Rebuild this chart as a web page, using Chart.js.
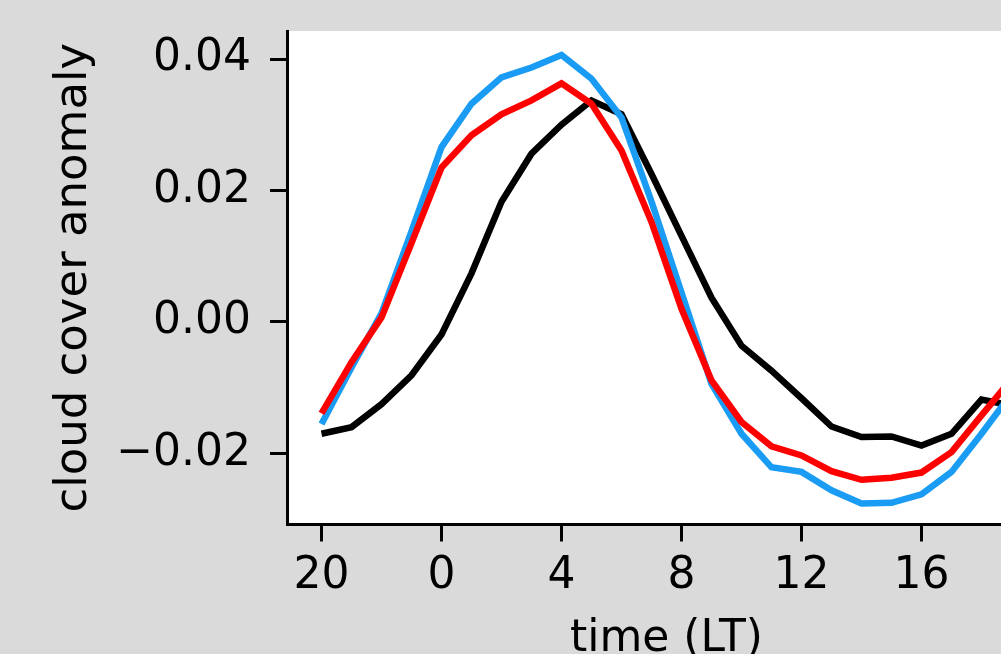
<!DOCTYPE html>
<html>
<head>
<meta charset="utf-8">
<script src="https://cdn.jsdelivr.net/npm/chart.js@4/dist/chart.umd.min.js"></script>
<style>
  html, body { margin: 0; padding: 0; overflow: hidden; background: #dadada; }
  #wrap { position: absolute; left: 0; top: 0; width: 1100px; height: 654px; }
  canvas { background: #dadada; }
</style>
</head>
<body>
<div id="wrap"><canvas id="c" width="1100" height="654"></canvas></div>
<script>
// hours relative to midnight (20 LT = -4 ... 19 LT = 19)
const hours = [-4,-3,-2,-1,0,1,2,3,4,5,6,7,8,9,10,11,12,13,14,15,16,17,18,19];

const seriesRed = [-0.0139,-0.0061,0.0007,0.0120,0.0235,0.0284,0.0316,0.0337,0.0363,0.0332,0.0261,0.0152,
                   0.0020,-0.0089,-0.0152,-0.0189,-0.0203,-0.0227,-0.0240,-0.0237,-0.0229,-0.0198,-0.0142,-0.0087];
const seriesBlue = [-0.0155,-0.0069,0.0013,0.0138,0.0266,0.0332,0.0372,0.0387,0.0406,0.0370,0.0311,0.0183,
                    0.0045,-0.0094,-0.0170,-0.0221,-0.0228,-0.0256,-0.0276,-0.0275,-0.0262,-0.0228,-0.0170,-0.0109];
const seriesBlack = [-0.0170,-0.0160,-0.0125,-0.0081,-0.0019,0.0074,0.0183,0.0256,0.0300,0.0337,0.0316,0.0225,
                     0.0131,0.0037,-0.0036,-0.0074,-0.0116,-0.0159,-0.0175,-0.0174,-0.0188,-0.0170,-0.0118,-0.0127];

const xTickValues = [-4, 0, 4, 8, 12, 16];
const xTickLabels = ['20', '0', '4', '8', '12', '16'];
const yTickValues = [-0.02, 0.00, 0.02, 0.04];
const yTickLabels = ['\u22120.02', '0.00', '0.02', '0.04'];

const FONT = 'DejaVu Sans';

const toPts = arr => arr.map((v, i) => ({x: hours[i], y: v}));

const plotBg = {
  id: 'plotBg',
  beforeDraw(chart) {
    const {ctx, chartArea: a} = chart;
    ctx.save();
    ctx.fillStyle = '#ffffff';
    ctx.fillRect(a.left, a.top, a.right - a.left, a.bottom - a.top);
    ctx.restore();
  }
};

new Chart(document.getElementById('c'), {
  type: 'line',
  data: {
    datasets: [
      {data: toPts(seriesRed), borderColor: '#ff0000', borderWidth: 6.5, pointRadius: 0, tension: 0, fill: false},
      {data: toPts(seriesBlue), borderColor: '#1a9cf5', borderWidth: 6.5, pointRadius: 0, tension: 0, fill: false},
      {data: toPts(seriesBlack), borderColor: '#000000', borderWidth: 6.5, pointRadius: 0, tension: 0, fill: false}
    ]
  },
  options: {
    responsive: false,
    animation: false,
    devicePixelRatio: 1,
    layout: {padding: {left: 0, top: 31, right: 54, bottom: 0}},
    plugins: {legend: {display: false}, tooltip: {enabled: false}},
    scales: {
      x: {
        type: 'linear',
        min: -5.15,
        max: 20.15,
        afterFit(s) { s.height = 129.5; s.paddingLeft = 0; s.paddingRight = 0; },
        afterBuildTicks(s) { s.ticks = xTickValues.map(v => ({value: v})); },
        grid: {drawOnChartArea: false, drawTicks: true, tickLength: 17, tickWidth: 3, tickColor: '#000'},
        border: {display: true, color: '#000', width: 3},
        ticks: {
          autoSkip: false, maxRotation: 0, minRotation: 0, padding: 9, color: '#000',
          font: {family: FONT, size: 44},
          callback: (v, i) => xTickLabels[i]
        },
        title: {display: true, text: 'time (LT)', color: '#000',
                font: {family: FONT, size: 44, lineHeight: 0.6}, padding: {top: 0, bottom: 1}}
      },
      y: {
        type: 'linear',
        min: -0.0308,
        max: 0.04426,
        afterFit(s) { s.width = 287; s.paddingTop = 0; s.paddingBottom = 0; },
        afterBuildTicks(s) { s.ticks = yTickValues.map(v => ({value: v})); },
        grid: {drawOnChartArea: false, drawTicks: true, tickLength: 17, tickWidth: 3, tickColor: '#000'},
        border: {display: true, color: '#000', width: 3},
        ticks: {
          autoSkip: false, padding: 19, color: '#000',
          font: {family: FONT, size: 44},
          callback: (v, i) => yTickLabels[i]
        },
        title: {display: true, text: 'cloud cover anomaly', color: '#000',
                font: {family: FONT, size: 45}, padding: {top: 47.4, bottom: 0}}
      }
    }
  },
  plugins: [plotBg]
});
</script>
</body>
</html>
